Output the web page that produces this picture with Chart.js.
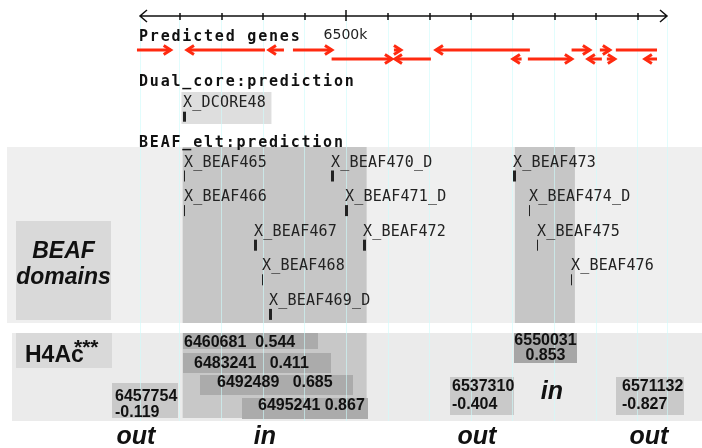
<!DOCTYPE html>
<html>
<head>
<meta charset="utf-8">
<script src="https://cdn.jsdelivr.net/npm/chart.js@4.4.0/dist/chart.umd.min.js"></script>
<style>
  html, body { margin: 0; padding: 0; background: #fff; }
  #wrap { position: relative; width: 702px; height: 448px; }
</style>
</head>
<body>
<div id="wrap"><canvas id="chart"></canvas></div>
<script>
// genomic window shown, in kb
const VIEW_START = 6450.4;
const VIEW_END = 6577.0;
const TRACK_END = 6574.6; // the gene track stops a bit before the ruler end

const rulerTicks = [6460, 6470, 6480, 6490, 6500, 6510, 6520, 6530, 6540, 6550, 6560, 6570];
const rulerLabels = ["", "", "", "", "6500k", "", "", "", "", "", "", ""];

// Predicted genes: start / end in kb, strand, lane (0 = upper, 1 = lower)
const geneStart  = [6449.67, 6461.68, 6481.38, 6487.14, 6511.40, 6521.49, 6554.08, 6560.87, 6564.71,
                    6496.43, 6511.64, 6539.98, 6543.58, 6557.99, 6562.55, 6571.68];
const geneEnd    = [6457.77, 6480.41, 6484.98, 6496.51, 6513.08, 6544.06, 6558.47, 6563.27, 6580.00,
                    6510.92, 6520.28, 6542.07, 6554.15, 6561.35, 6564.47, 6580.00];
const geneStrand = ["+", "-", "-", "+", "+", "-", "+", "+", "+",
                    "+", "-", "-", "+", "-", "+", "-"];
const geneLane   = [0, 0, 0, 0, 0, 0, 0, 0, 0,
                    1, 1, 1, 1, 1, 1, 1];

// Dual_core:prediction
const dcoreNames = ["X_DCORE48"];
const dcorePos = [6460.84];

// BEAF_elt:prediction
const beafNames  = ["X_BEAF465", "X_BEAF466", "X_BEAF467", "X_BEAF468", "X_BEAF469_D", "X_BEAF470_D",
                    "X_BEAF471_D", "X_BEAF472", "X_BEAF473", "X_BEAF474_D", "X_BEAF475", "X_BEAF476"];
const beafPos    = [6460.96, 6460.96, 6477.77, 6479.77, 6481.45, 6496.27,
                    6499.63, 6504.02, 6540.05, 6543.82, 6545.67, 6553.91];
const beafLane   = [0, 1, 2, 3, 4, 0, 1, 2, 0, 1, 2, 3];
const beafStrong = [false, false, true, false, true, true, true, true, true, false, false, false];

// BEAF domains (kb)
const domainStart = [6460.65, 6540.46];
const domainEnd   = [6504.84, 6554.87];

// H4Ac probes
const h4Probe = [6460681, 6483241, 6492489, 6495241, 6457754, 6550031, 6537310, 6571132];
const h4Value = [0.544, 0.411, 0.685, 0.867, -0.119, 0.853, -0.404, -0.827];
const h4Call  = ["in", "in", "in", "in", "out", "in", "out", "out"];

// in / out calls written under the tracks
const statusText = ["out", "in", "out", "out", "in"];
const statusPos  = [6449.43, 6480.41, 6531.33, 6572.64, 6549.35];

// ---- layout (pixels) ----
const RULER_Y = 16;
const GENE_LANE_Y = [50, 59];
const BEAF_BASE = 166.5, BEAF_STEP = 34.6;
const BEAF_PANEL = [7, 147, 702, 323];
const H4_PANEL = [12, 333, 702, 421];
const h4Layout = [
  { box: [183, 333, 318, 349], at: [184, 347], gap: "  " },
  { box: [183, 353, 331, 373], at: [194, 368], gap: "   " },
  { box: [200, 375, 353, 395], at: [217, 387], gap: "   " },
  { box: [242, 398, 368, 419], at: [258, 410], gap: " " },
  { box: [112, 383, 178, 418], at: [115, 401], lead: 16 },
  { box: [514, 333, 577, 363], at: [545.5, 345], lead: 15, center: true },
  { box: [450, 377, 514, 415], at: [452, 391], lead: 17.5 },
  { box: [616, 377, 684, 415], at: [622, 391], lead: 17.5 }
];
const statusY = [444, 444, 444, 444, 399];

const MONO = '"DejaVu Sans Mono", monospace';
const SANS = '"Liberation Sans", Arial, sans-serif';
const GENE_RED = "#ff2a10";

function rect(ctx, color, x0, y0, x1, y1) {
  ctx.fillStyle = color;
  ctx.fillRect(x0, y0, x1 - x0, y1 - y0);
}

function chevron(ctx, tipX, y, dir) {
  ctx.beginPath();
  ctx.moveTo(tipX - dir * 7, y - 4.5);
  ctx.lineTo(tipX, y);
  ctx.lineTo(tipX - dir * 7, y + 4.5);
  ctx.stroke();
}

const browserTracks = {
  id: "browserTracks",
  beforeDraw(chart) {
    const { ctx } = chart;
    const px = (v) => chart.scales.x.getPixelForValue(v);
    ctx.save();
    rect(ctx, "#ffffff", 0, 0, chart.width, chart.height);

    // BEAF panel with domains and side label box
    rect(ctx, "#efefef", ...BEAF_PANEL);
    domainStart.forEach((s, i) => rect(ctx, "#c6c6c6", px(s), BEAF_PANEL[1], px(domainEnd[i]), BEAF_PANEL[3]));
    rect(ctx, "#d9d9d9", 16, 221, 111, 320);

    // H4Ac panel
    rect(ctx, "#ebebeb", ...H4_PANEL);
    rect(ctx, "#c8c8c8", px(domainStart[0]), H4_PANEL[1], px(domainEnd[0]), 418);
    rect(ctx, "#d9d9d9", 16, 333, 112, 368);
    h4Layout.forEach((l, i) => {
      const [x0, y0, x1, y1] = l.box;
      rect(ctx, h4Call[i] === "in" ? (l.lead ? "#a6a6a6" : "#ababab") : "#c9c9c9", x0, y0, x1, y1);
    });

    // Dual core box
    dcorePos.forEach((p) => {
      const x = px(p);
      rect(ctx, "#dedede", x - 2, 92, x + 88, 124);
    });
    ctx.restore();
  },
  afterDraw(chart) {
    const { ctx } = chart;
    const px = (v) => chart.scales.x.getPixelForValue(v);
    ctx.save();

    // ruler
    const x0 = px(VIEW_START), x1 = px(VIEW_END);
    ctx.strokeStyle = "#111";
    ctx.lineWidth = 1.5;
    ctx.beginPath();
    ctx.moveTo(x0, RULER_Y); ctx.lineTo(x1, RULER_Y);
    ctx.moveTo(x0 + 7, RULER_Y - 6); ctx.lineTo(x0, RULER_Y); ctx.lineTo(x0 + 7, RULER_Y + 6);
    ctx.moveTo(x1 - 7, RULER_Y - 6); ctx.lineTo(x1, RULER_Y); ctx.lineTo(x1 - 7, RULER_Y + 6);
    rulerTicks.forEach((t, i) => {
      const tx = Math.round(px(t));
      const big = rulerLabels[i] !== "";
      ctx.moveTo(tx, RULER_Y - (big ? 6 : 3));
      ctx.lineTo(tx, RULER_Y + (big ? 5 : 4));
    });
    ctx.stroke();
    ctx.fillStyle = "#222";
    ctx.font = '14px "DejaVu Sans", sans-serif';
    ctx.textAlign = "center";
    rulerTicks.forEach((t, i) => {
      if (rulerLabels[i]) ctx.fillText(rulerLabels[i], px(t) - 1, 38.5);
    });

    // track titles
    ctx.textAlign = "left";
    ctx.fillStyle = "#111";
    ctx.font = "bold 15px " + MONO;
    ctx.letterSpacing = "1.8px";
    ctx.fillText("Predicted genes", 139, 40.5);
    ctx.fillText("Dual_core:prediction", 139, 85.5);
    ctx.fillText("BEAF_elt:prediction", 139, 146.5);

    // predicted genes
    ctx.strokeStyle = GENE_RED;
    ctx.lineWidth = 3;
    ctx.lineJoin = "miter";
    const clipX = px(TRACK_END);
    geneStart.forEach((s, i) => {
      const y = GENE_LANE_Y[geneLane[i]];
      const a = px(s);
      const bRaw = px(geneEnd[i]);
      const b = Math.min(bRaw, clipX);
      ctx.beginPath();
      ctx.moveTo(a, y); ctx.lineTo(b, y);
      ctx.stroke();
      if (geneStrand[i] === "+" && bRaw <= clipX) chevron(ctx, b, y, 1);
      if (geneStrand[i] === "-") chevron(ctx, a, y, -1);
    });

    // feature labels + tick marks
    ctx.font = "15px " + MONO;
    ctx.letterSpacing = "0.2px";
    ctx.fillStyle = "#222";
    dcorePos.forEach((p, i) => {
      const x = Math.round(px(p));
      ctx.fillText(dcoreNames[i], x, 106.7);
      ctx.fillRect(x, 111.7, 3, 10);
    });
    beafPos.forEach((p, i) => {
      const x = Math.round(px(p));
      const base = BEAF_BASE + beafLane[i] * BEAF_STEP;
      ctx.fillStyle = "#222";
      ctx.fillText(beafNames[i], x, base);
      ctx.fillRect(x, base + 4, beafStrong[i] ? 3 : 1, 11);
    });
    ctx.letterSpacing = "0px";

    // side labels
    ctx.fillStyle = "#111";
    ctx.textAlign = "center";
    ctx.font = "italic bold 23px " + SANS;
    ctx.fillText("BEAF", 63.5, 258);
    ctx.fillText("domains", 63.5, 284);
    ctx.textAlign = "left";
    ctx.font = "bold 23px " + SANS;
    ctx.fillText("H4Ac", 25, 362);
    ctx.font = "bold 21px " + SANS;
    ctx.fillText("***", 74, 354);

    // H4Ac probe values
    ctx.font = "bold 16px " + SANS;
    h4Layout.forEach((l, i) => {
      const probe = String(h4Probe[i]);
      const val = h4Value[i].toFixed(3);
      ctx.textAlign = l.center ? "center" : "left";
      if (l.lead) {
        ctx.fillText(probe, l.at[0], l.at[1]);
        ctx.fillText(val, l.at[0], l.at[1] + l.lead);
      } else {
        ctx.fillText(probe + l.gap + val, l.at[0], l.at[1]);
      }
    });

    // in / out calls
    ctx.textAlign = "center";
    ctx.font = "italic bold 25px " + SANS;
    statusText.forEach((t, i) => ctx.fillText(t, px(statusPos[i]), statusY[i]));
    ctx.restore();
  }
};

new Chart(document.getElementById("chart"), {
  type: "scatter",
  data: { datasets: [] },
  options: {
    responsive: true,
    maintainAspectRatio: false,
    animation: false,
    events: [],
    layout: { padding: { left: 140, right: 35, top: 18, bottom: 27 } },
    plugins: { legend: { display: false }, tooltip: { enabled: false } },
    scales: {
      x: {
        type: "linear",
        min: VIEW_START,
        max: VIEW_END,
        afterBuildTicks: (axis) => {
          axis.ticks = [VIEW_START, ...rulerTicks, VIEW_END].map((v) => ({ value: v }));
        },
        ticks: { display: false },
        grid: { color: "rgba(205,252,252,0.6)", lineWidth: 1, drawTicks: false },
        border: { display: false }
      },
      y: { display: false, min: 0, max: 1 }
    }
  },
  plugins: [browserTracks]
});
</script>
</body>
</html>
